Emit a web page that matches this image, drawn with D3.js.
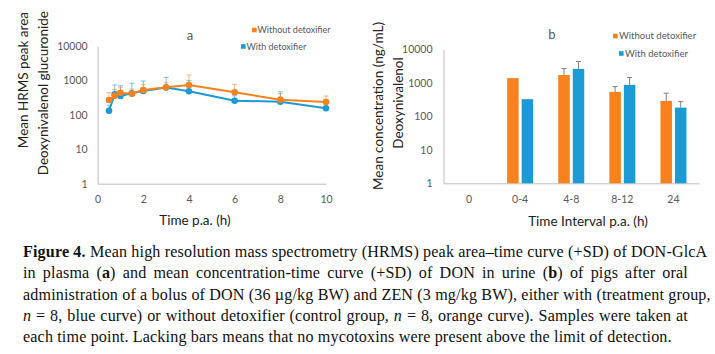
<!DOCTYPE html>
<html><head><meta charset="utf-8">
<script src="https://cdn.jsdelivr.net/npm/d3@7"></script>
<style>
body{margin:0;background:#fff;}
#wrap{position:relative;width:715px;height:354px;overflow:hidden;}
svg{position:absolute;left:0;top:0;}
#cap{position:absolute;left:23px;top:241px;width:665px;font-family:"Liberation Serif",serif;font-size:16.1px;letter-spacing:0.15px;line-height:21.3px;color:#111;}
#cap .j{text-align:justify;text-align-last:justify;white-space:nowrap;}
#cap .l{text-align:left;white-space:nowrap;}
</style></head>
<body><div id="wrap"><svg id="chart" width="715" height="354"></svg>
<div id="cap">
<div class="j"><b>Figure 4.</b> Mean high resolution mass spectrometry (HRMS) peak area–time curve (+SD) of DON-GlcA</div>
<div class="j">in plasma (<b>a</b>) and mean concentration-time curve (+SD) of DON in urine (<b>b</b>) of pigs after oral</div>
<div class="j">administration of a bolus of DON (36 µg/kg BW) and ZEN (3 mg/kg BW), either with (treatment group,</div>
<div class="j"><i>n</i> = 8, blue curve) or without detoxifier (control group, <i>n</i> = 8, orange curve). Samples were taken at</div>
<div class="l">each time point. Lacking bars means that no mycotoxins were present above the limit of detection.</div>
</div></div>
<script>
// ---------- data ----------
const timesA = [0.5, 0.75, 1, 1.5, 2, 3, 4, 6, 8, 10];
const withoutA = [270, 360, 440, 412, 528, 633, 738, 452, 276, 236];
const withA = [132, 396, 353, 420, 493, 623, 484, 258, 241, 155];
const withoutSD_A = [170, 190, 200, 150, 240, 230, 700, 320, 140, 117];
const withSD_A = [60, 342, 350, 406, 470, 608, 516, 100, 230, 128];
const xTicksA = [0, 2, 4, 6, 8, 10];
const yTicks = [1, 10, 100, 1000, 10000];

const categoriesB = ["0", "0-4", "4-8", "8-12", "24"];
const withoutB = [null, 1393, 1730, 542, 291];
const withB = [null, 327, 2640, 877, 183];
const withoutSD_B = [null, 0, 970, 238, 204];
const withSD_B = [null, 0, 1730, 575, 94];

const seriesNames = ["Without detoxifier", "With detoxifier"];
const ORANGE = "#F7821E", BLUE = "#1C9AD6";
const AXIS = "#BFBFBF", TXT = "#595959", FONT = "Lato, 'Open Sans', sans-serif";

const svg = d3.select("#chart");

// ---------- chart a ----------
const xA = d3.scaleLinear().domain([0, 10]).range([97.6, 326]);
const yA = d3.scaleLog().domain([1, 10000]).range([183.7, 46]);
const gA = svg.append("g");

gA.append("g").attr("transform", `translate(${xA(0)},0)`)
  .call(d3.axisLeft(yA).tickValues(yTicks).tickFormat(d3.format("d")).tickSize(0).tickSizeOuter(0).tickPadding(10))
  .call(g => { g.select(".domain").attr("stroke", AXIS); g.selectAll("text").attr("fill", TXT).style("font", `10.5px ${FONT}`); });
gA.append("g").attr("transform", `translate(0,${yA(1)})`)
  .call(d3.axisBottom(xA).tickValues(xTicksA).tickSize(0).tickSizeOuter(0).tickPadding(12))
  .call(g => { g.select(".domain").attr("stroke", AXIS); g.selectAll("text").attr("fill", TXT).style("font", `10.5px ${FONT}`); });

const seriesA = [
  {vals: withA, sd: withSD_A, color: BLUE},
  {vals: withoutA, sd: withoutSD_A, color: ORANGE}
];
seriesA.forEach(s => {
  const pts = timesA.map((t, i) => ({t, v: s.vals[i], sd: s.sd[i]}));
  const eb = gA.append("g").attr("stroke", s.color).attr("stroke-opacity", 0.55).attr("stroke-width", 1);
  pts.forEach(p => {
    const x = xA(p.t), y1 = yA(p.v), y2 = yA(p.v + p.sd);
    eb.append("line").attr("x1", x).attr("x2", x).attr("y1", y1).attr("y2", y2);
    eb.append("line").attr("x1", x - 2.5).attr("x2", x + 2.5).attr("y1", y2).attr("y2", y2);
  });
});
seriesA.forEach(s => {
  const pts = timesA.map((t, i) => ({t, v: s.vals[i]}));
  gA.append("path").datum(pts).attr("fill", "none").attr("stroke", s.color).attr("stroke-width", 2)
    .attr("d", d3.line().x(d => xA(d.t)).y(d => yA(d.v)));
  gA.append("g").selectAll("circle").data(pts).join("circle")
    .attr("cx", d => xA(d.t)).attr("cy", d => yA(d.v)).attr("r", 3.3).attr("fill", s.color);
});

gA.append("text").attr("x", 190).attr("y", 40).attr("text-anchor", "middle").attr("fill", TXT)
  .style("font", `13px ${FONT}`).text("a");
// legend a
[[ORANGE, 252, 30, seriesNames[0]], [BLUE, 241, 46.5, seriesNames[1]]].forEach(([c, x, y, t]) => {
  gA.append("rect").attr("x", x).attr("y", y - 2.3).attr("width", 4.6).attr("height", 4.6).attr("fill", c);
  gA.append("text").attr("x", x + 5.5).attr("y", y).attr("dy", "0.35em").attr("fill", TXT)
    .style("font", `9px ${FONT}`).text(t);
});
// axis titles a
gA.append("text").attr("x", 195).attr("y", 220).attr("dy", "0.35em").attr("text-anchor", "middle")
  .attr("fill", "#222").style("font", `13.5px ${FONT}`).text("Time p.a. (h)");
const yt = gA.append("text").attr("transform", "rotate(-90)").attr("text-anchor", "end")
  .attr("fill", "#222").style("font", `13.5px ${FONT}`);
yt.append("tspan").attr("x", -12).attr("y", 28).text("Mean HRMS peak area");
yt.append("tspan").attr("x", -11).attr("y", 47.5).text("Deoxynivalenol glucuronide");

// ---------- chart b ----------
const xB = d3.scaleBand().domain(categoriesB).range([443.5, 699]);
const yB = d3.scaleLog().domain([1, 10000]).range([183.3, 49.5]);
const gB = svg.append("g");
gB.append("g").attr("transform", `translate(443.5,0)`)
  .call(d3.axisLeft(yB).tickValues(yTicks).tickFormat(d3.format("d")).tickSize(0).tickSizeOuter(0).tickPadding(11))
  .call(g => { g.select(".domain").attr("stroke", AXIS); g.selectAll("text").attr("fill", TXT).style("font", `10.5px ${FONT}`); });
gB.append("g").attr("transform", `translate(0,${yB(1)})`)
  .call(d3.axisBottom(xB).tickSize(0).tickSizeOuter(0).tickPadding(12))
  .call(g => { g.select(".domain").attr("stroke", AXIS); g.selectAll("text").attr("fill", TXT).style("font", `10.5px ${FONT}`); });

const barW = 11.5, gap = 3;
const seriesB = [
  {vals: withoutB, sd: withoutSD_B, color: ORANGE, off: -(barW + gap / 2)},
  {vals: withB, sd: withSD_B, color: BLUE, off: gap / 2}
];
seriesB.forEach(s => {
  categoriesB.forEach((c, i) => {
    const v = s.vals[i];
    if (v == null) return;
    const cx = xB(c) + xB.bandwidth() / 2;
    gB.append("rect").attr("x", cx + s.off).attr("width", barW)
      .attr("y", yB(v)).attr("height", yB(1) - yB(v)).attr("fill", s.color);
    if (s.sd[i] > 0) {
      const ex = cx + s.off + barW / 2, y1 = yB(v), y2 = yB(v + s.sd[i]);
      gB.append("line").attr("x1", ex).attr("x2", ex).attr("y1", y1).attr("y2", y2).attr("stroke", "#7f7f7f").attr("stroke-width", 1);
      gB.append("line").attr("x1", ex - 2.5).attr("x2", ex + 2.5).attr("y1", y2).attr("y2", y2).attr("stroke", "#7f7f7f").attr("stroke-width", 1);
    }
  });
});
gB.append("text").attr("x", 552).attr("y", 39).attr("text-anchor", "middle").attr("fill", TXT)
  .style("font", `13px ${FONT}`).text("b");
[[ORANGE, 613, 36, seriesNames[0]], [BLUE, 619, 53.5, seriesNames[1]]].forEach(([c, x, y, t]) => {
  gB.append("rect").attr("x", x).attr("y", y - 2.3).attr("width", 4.6).attr("height", 4.6).attr("fill", c);
  gB.append("text").attr("x", x + 6).attr("y", y).attr("dy", "0.35em").attr("fill", TXT)
    .style("font", `9.5px ${FONT}`).text(t);
});
gB.append("text").attr("x", 588).attr("y", 221).attr("dy", "0.35em").attr("text-anchor", "middle")
  .attr("fill", "#222").style("font", `13.5px ${FONT}`).text("Time Interval p.a. (h)");
const ytb = gB.append("text").attr("transform", "rotate(-90)").attr("text-anchor", "middle")
  .attr("fill", "#222").style("font", `13.5px ${FONT}`);
ytb.append("tspan").attr("x", -106).attr("y", 383).text("Mean concentration (ng/mL)");
ytb.append("tspan").attr("x", -103).attr("y", 402.5).text("Deoxynivalenol");
</script></body></html>
